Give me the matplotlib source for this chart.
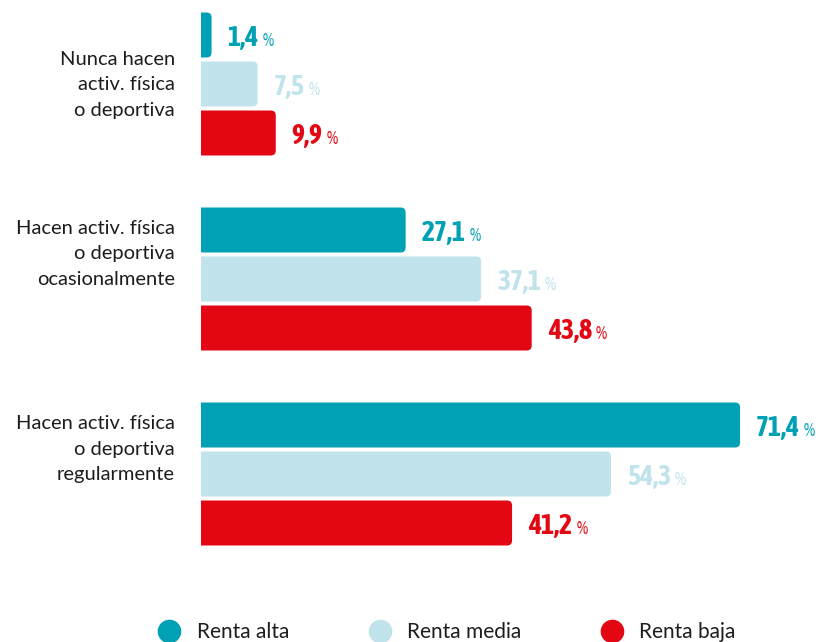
import matplotlib.pyplot as plt
from matplotlib import font_manager
from matplotlib.patches import FancyBboxPatch
from matplotlib.lines import Line2D

# Datos
categorias = [
    "Nunca hacen\nactiv. física\no deportiva",
    "Hacen activ. física\no deportiva\nocasionalmente",
    "Hacen activ. física\no deportiva\nregularmente",
]
series = ["Renta alta", "Renta media", "Renta baja"]
renta_alta = [1.4, 27.1, 71.4]
renta_media = [7.5, 37.1, 54.3]
renta_baja = [9.9, 43.8, 41.2]

colores = ["#00a0b5", "#c1e3ec", "#e30613"]
color_texto = "#1d1d1b"


def peso(f):
    w = f.weight
    if isinstance(w, str):
        return 700 if "bold" in w.lower() else 400
    return w


# Buscar una fuente estrecha y negrita (no cursiva) para las cifras
lista = [f for f in font_manager.fontManager.ttflist if f.style == "normal"]
estrechas = [f for f in lista
             if "Narrow" in f.name or "Condensed" in f.name
             or str(f.stretch) in ("condensed", "semi-condensed", "extra-condensed")]
negritas = [f for f in estrechas if 600 <= peso(f) <= 800]
elegida = sorted(negritas or estrechas, key=lambda f: (f.name, str(f.stretch)))
if elegida:
    f0 = elegida[0]
    fuente_num = [f0.name, "DejaVu Sans"]
    estiro = f0.stretch
    peso_num = peso(f0) if negritas else "bold"
    tam_num = 20
else:
    fuente_num = ["DejaVu Sans"]
    estiro = "normal"
    peso_num = "bold"
    tam_num = 17

# Escala: 7.55 px por punto porcentual, eje Y en pixeles (hacia abajo)
W, H = 821, 642
px_por_unidad = 7.55
x0 = 201

fig = plt.figure(figsize=(W / 100, H / 100), dpi=100)
ax = fig.add_axes([x0 / W, 0, (W - x0) / W, 1])
ax.set_xlim(0, (W - x0) / px_por_unidad)
ax.set_ylim(H, 0)
ax.axis("off")

centros_grupo = [84, 279, 474]
desplaz = [-49, 0, 49]
alto_barra = 45
radio = 5

fuente_txt = ["Lato", "DejaVu Sans"]

renderer = fig.canvas.get_renderer()
for s, valores in enumerate([renta_alta, renta_media, renta_baja]):
    for g, v in enumerate(valores):
        yc = centros_grupo[g] + desplaz[s]
        # barra con esquinas redondeadas solo a la derecha (la izquierda se recorta)
        r_x = radio / px_por_unidad
        barra = FancyBboxPatch(
            (-2, yc - alto_barra / 2), v + 2, alto_barra,
            boxstyle=f"round,pad=0,rounding_size={r_x}",
            mutation_aspect=px_por_unidad,
            facecolor=colores[s], edgecolor="none",
        )
        ax.add_patch(barra)
        # etiqueta de valor
        xt = v + 16 / px_por_unidad
        t = ax.text(xt, yc + 11, f"{v:.1f}".replace(".", ","),
                    family=fuente_num, fontweight=peso_num, fontsize=tam_num,
                    fontstretch=estiro, fontstyle="normal",
                    color=colores[s], va="baseline", ha="left")
        bb = t.get_window_extent(renderer)
        xp = ax.transData.inverted().transform((bb.x1 + 4, 0))[0]
        ax.text(xp, yc + 11, "%", family=fuente_num, fontsize=13,
                fontstretch=estiro, fontstyle="normal",
                color=colores[s], va="baseline", ha="left")

# etiquetas de categoria
centros_etq = [85, 254, 449]
for g, cat in enumerate(categorias):
    ax.text(-26 / px_por_unidad, centros_etq[g], cat, family=fuente_txt,
            fontsize=14.5, color=color_texto, ha="right", va="center",
            linespacing=1.6, clip_on=False)

# leyenda
handles = [Line2D([], [], marker="o", ls="", color=c, markersize=16) for c in colores]
fig.legend(handles, series, loc="center left", bbox_to_anchor=(158 / W, 1 - 632 / H),
           ncol=3, frameon=False, borderpad=0, borderaxespad=0,
           handlelength=1.1, handletextpad=0.75, columnspacing=3.8,
           prop={"family": fuente_txt, "size": 15}, labelcolor=color_texto)

plt.savefig("out.png", dpi=100)
